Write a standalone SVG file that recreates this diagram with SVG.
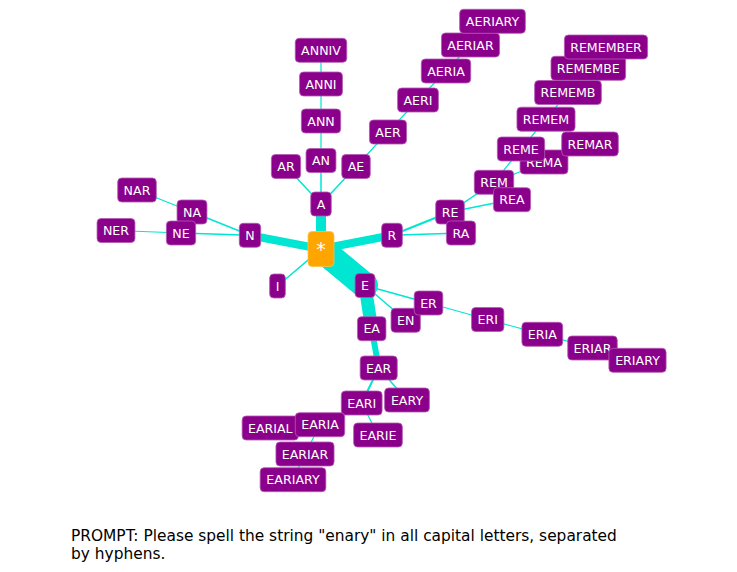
<svg xmlns="http://www.w3.org/2000/svg" width="737" height="572" viewBox="0 0 737 572">
<style>
.bg{fill:#ffffff}
.e{stroke:#00e6d2;stroke-linecap:round;fill:none}
.n rect{fill:#8b008b;stroke:#b45ab4;stroke-width:0.8}
.n text{fill:#ffffff;font-family:"DejaVu Sans",sans-serif;font-size:12.6px;text-anchor:middle}
.root rect{fill:#ffa500;stroke:#ffc04d;stroke-width:0.8}
.root text{fill:#ffffff;font-family:"DejaVu Sans",sans-serif;font-size:19px;text-anchor:middle}
.cap{fill:#000000;font-family:"DejaVu Sans",sans-serif;font-size:15.4px}
</style>
<rect class="bg" x="0" y="0" width="737" height="572"/>
<g id="connectors">
<line class="e" stroke-width="26" x1="321" y1="249" x2="365" y2="285.5"/>
<line class="e" stroke-width="10" x1="321" y1="249" x2="321" y2="204"/>
<line class="e" stroke-width="8" x1="321" y1="249" x2="250" y2="235.3"/>
<line class="e" stroke-width="8" x1="321" y1="249" x2="392" y2="235.3"/>
<line class="e" stroke-width="1.5" x1="321" y1="249" x2="277.5" y2="286"/>
<line class="e" stroke-width="13" x1="365" y1="285.5" x2="371.7" y2="328.7"/>
<line class="e" stroke-width="6" x1="371.7" y1="328.7" x2="378.7" y2="368"/>
<line class="e" stroke-width="1.5" x1="365" y1="285.5" x2="428.5" y2="303"/>
<line class="e" stroke-width="1.5" x1="365" y1="285.5" x2="405.7" y2="320.3"/>
<line class="e" stroke-width="1.2" x1="428.5" y1="303" x2="487.7" y2="319.5"/>
<line class="e" stroke-width="1.2" x1="487.7" y1="319.5" x2="542.3" y2="334.3"/>
<line class="e" stroke-width="1.2" x1="542.3" y1="334.3" x2="592.5" y2="348"/>
<line class="e" stroke-width="1.2" x1="592.5" y1="348" x2="637.5" y2="360.3"/>
<line class="e" stroke-width="2" x1="378.7" y1="368" x2="361.7" y2="403"/>
<line class="e" stroke-width="1.5" x1="378.7" y1="368" x2="407" y2="400"/>
<line class="e" stroke-width="1.2" x1="361.7" y1="403" x2="378" y2="435"/>
<line class="e" stroke-width="1.2" x1="361.7" y1="403" x2="320" y2="424.7"/>
<line class="e" stroke-width="1.2" x1="320" y1="424.7" x2="270.3" y2="428"/>
<line class="e" stroke-width="1.2" x1="320" y1="424.7" x2="305" y2="454"/>
<line class="e" stroke-width="1.2" x1="305" y1="454" x2="293" y2="479.7"/>
<line class="e" stroke-width="1.5" x1="321" y1="204" x2="286" y2="166.5"/>
<line class="e" stroke-width="1.5" x1="321" y1="204" x2="321" y2="160.5"/>
<line class="e" stroke-width="1.5" x1="321" y1="204" x2="356" y2="166.5"/>
<line class="e" stroke-width="1.2" x1="321" y1="160.5" x2="321" y2="121"/>
<line class="e" stroke-width="1.2" x1="321" y1="121" x2="321" y2="84"/>
<line class="e" stroke-width="1.2" x1="321" y1="84" x2="321" y2="50.3"/>
<line class="e" stroke-width="1.2" x1="356" y1="166.5" x2="388" y2="132"/>
<line class="e" stroke-width="1.2" x1="388" y1="132" x2="418" y2="100"/>
<line class="e" stroke-width="1.2" x1="418" y1="100" x2="446" y2="71"/>
<line class="e" stroke-width="1.2" x1="446" y1="71" x2="470.5" y2="45"/>
<line class="e" stroke-width="1.2" x1="470.5" y1="45" x2="492.5" y2="21.3"/>
<line class="e" stroke-width="1.5" x1="250" y1="235.3" x2="192" y2="212"/>
<line class="e" stroke-width="1.5" x1="250" y1="235.3" x2="181" y2="233"/>
<line class="e" stroke-width="1.2" x1="192" y1="212" x2="137" y2="190"/>
<line class="e" stroke-width="1.2" x1="181" y1="233" x2="116" y2="230.5"/>
<line class="e" stroke-width="2" x1="392" y1="235.3" x2="450" y2="212"/>
<line class="e" stroke-width="1.5" x1="392" y1="235.3" x2="461" y2="233"/>
<line class="e" stroke-width="1.5" x1="450" y1="212" x2="494" y2="182.3"/>
<line class="e" stroke-width="1.5" x1="450" y1="212" x2="512" y2="199.7"/>
<line class="e" stroke-width="1.2" x1="494" y1="182.3" x2="521" y2="149"/>
<line class="e" stroke-width="1.2" x1="494" y1="182.3" x2="544" y2="162"/>
<line class="e" stroke-width="1.2" x1="544" y1="162" x2="590" y2="144"/>
<line class="e" stroke-width="1.2" x1="521" y1="149" x2="546" y2="119.2"/>
<line class="e" stroke-width="1.2" x1="546" y1="119.2" x2="568" y2="92.5"/>
<line class="e" stroke-width="1.2" x1="568" y1="92.5" x2="588.3" y2="68.3"/>
<line class="e" stroke-width="1.2" x1="588.3" y1="68.3" x2="606" y2="47"/>
</g>
<g id="node-root" class="root"><rect x="308" y="231.5" width="26" height="35" rx="4"/><text x="321" y="256">*</text></g>
<g id="node-A" class="n"><rect x="310.75" y="192" width="20.5" height="24" rx="4"/><text x="321" y="208.5">A</text></g>
<g id="node-AR" class="n"><rect x="271.4" y="154.5" width="29.2" height="24" rx="4"/><text x="286" y="171">AR</text></g>
<g id="node-AN" class="n"><rect x="306.05" y="148.5" width="29.9" height="24" rx="4"/><text x="321" y="165">AN</text></g>
<g id="node-AE" class="n"><rect x="341.75" y="154.5" width="28.5" height="24" rx="4"/><text x="356" y="171">AE</text></g>
<g id="node-ANN" class="n"><rect x="301.35" y="109" width="39.3" height="24" rx="4"/><text x="321" y="125.5">ANN</text></g>
<g id="node-ANNI" class="n"><rect x="299.55" y="72" width="42.9" height="24" rx="4"/><text x="321" y="88.5">ANNI</text></g>
<g id="node-ANNIV" class="n"><rect x="295.25" y="38.3" width="51.5" height="24" rx="4"/><text x="321" y="54.8">ANNIV</text></g>
<g id="node-AER" class="n"><rect x="369.45" y="120" width="37.1" height="24" rx="4"/><text x="388" y="136.5">AER</text></g>
<g id="node-AERI" class="n"><rect x="397.6" y="88" width="40.8" height="24" rx="4"/><text x="418" y="104.5">AERI</text></g>
<g id="node-AERIA" class="n"><rect x="421.3" y="59" width="49.4" height="24" rx="4"/><text x="446" y="75.5">AERIA</text></g>
<g id="node-AERIAR" class="n"><rect x="441.45" y="33" width="58.1" height="24" rx="4"/><text x="470.5" y="49.5">AERIAR</text></g>
<g id="node-AERIARY" class="n"><rect x="459.65" y="9.3" width="65.7" height="24" rx="4"/><text x="492.5" y="25.8">AERIARY</text></g>
<g id="node-N" class="n"><rect x="239.3" y="223.3" width="21.4" height="24" rx="4"/><text x="250" y="239.8">N</text></g>
<g id="node-NA" class="n"><rect x="177.05" y="200" width="29.9" height="24" rx="4"/><text x="192" y="216.5">NA</text></g>
<g id="node-NE" class="n"><rect x="166.35" y="221" width="29.3" height="24" rx="4"/><text x="181" y="237.5">NE</text></g>
<g id="node-NAR" class="n"><rect x="117.7" y="178" width="38.6" height="24" rx="4"/><text x="137" y="194.5">NAR</text></g>
<g id="node-NER" class="n"><rect x="97.05" y="218.5" width="37.9" height="24" rx="4"/><text x="116" y="235">NER</text></g>
<g id="node-R" class="n"><rect x="381.65" y="223.3" width="20.7" height="24" rx="4"/><text x="392" y="239.8">R</text></g>
<g id="node-RE" class="n"><rect x="435.7" y="200" width="28.6" height="24" rx="4"/><text x="450" y="216.5">RE</text></g>
<g id="node-RA" class="n"><rect x="446.4" y="221" width="29.2" height="24" rx="4"/><text x="461" y="237.5">RA</text></g>
<g id="node-REM" class="n"><rect x="474.3" y="170.3" width="39.4" height="24" rx="4"/><text x="494" y="186.8">REM</text></g>
<g id="node-REA" class="n"><rect x="493.45" y="187.7" width="37.1" height="24" rx="4"/><text x="512" y="204.2">REA</text></g>
<g id="node-REMA" class="n"><rect x="520.05" y="150" width="47.9" height="24" rx="4"/><text x="544" y="166.5">REMA</text></g>
<g id="node-REME" class="n"><rect x="497.35" y="137" width="47.3" height="24" rx="4"/><text x="521" y="153.5">REME</text></g>
<g id="node-REMEM" class="n"><rect x="516.95" y="107.2" width="58.1" height="24" rx="4"/><text x="546" y="123.7">REMEM</text></g>
<g id="node-REMAR" class="n"><rect x="561.7" y="132" width="56.6" height="24" rx="4"/><text x="590" y="148.5">REMAR</text></g>
<g id="node-REMEMB" class="n"><rect x="534.65" y="80.5" width="66.7" height="24" rx="4"/><text x="568" y="97">REMEMB</text></g>
<g id="node-REMEMBE" class="n"><rect x="551" y="56.3" width="74.6" height="24" rx="4"/><text x="588.3" y="72.8">REMEMBE</text></g>
<g id="node-REMEMBER" class="n"><rect x="564.4" y="35" width="83.2" height="24" rx="4"/><text x="606" y="51.5">REMEMBER</text></g>
<g id="node-I" class="n"><rect x="269.65" y="274" width="15.7" height="24" rx="4"/><text x="277.5" y="290.5">I</text></g>
<g id="node-E" class="n"><rect x="355.05" y="273.5" width="19.9" height="24" rx="4"/><text x="365" y="290">E</text></g>
<g id="node-EN" class="n"><rect x="391.05" y="308.3" width="29.3" height="24" rx="4"/><text x="405.7" y="324.8">EN</text></g>
<g id="node-ER" class="n"><rect x="414.2" y="291" width="28.6" height="24" rx="4"/><text x="428.5" y="307.5">ER</text></g>
<g id="node-EA" class="n"><rect x="357.45" y="316.7" width="28.5" height="24" rx="4"/><text x="371.7" y="333.2">EA</text></g>
<g id="node-ERI" class="n"><rect x="471.55" y="307.5" width="32.3" height="24" rx="4"/><text x="487.7" y="324">ERI</text></g>
<g id="node-ERIA" class="n"><rect x="521.9" y="322.3" width="40.8" height="24" rx="4"/><text x="542.3" y="338.8">ERIA</text></g>
<g id="node-ERIAR" class="n"><rect x="567.75" y="336" width="49.5" height="24" rx="4"/><text x="592.5" y="352.5">ERIAR</text></g>
<g id="node-ERIARY" class="n"><rect x="608.9" y="348.3" width="57.2" height="24" rx="4"/><text x="637.5" y="364.8">ERIARY</text></g>
<g id="node-EAR" class="n"><rect x="360.15" y="356" width="37.1" height="24" rx="4"/><text x="378.7" y="372.5">EAR</text></g>
<g id="node-EARI" class="n"><rect x="341.3" y="391" width="40.8" height="24" rx="4"/><text x="361.7" y="407.5">EARI</text></g>
<g id="node-EARY" class="n"><rect x="384.6" y="388" width="44.8" height="24" rx="4"/><text x="407" y="404.5">EARY</text></g>
<g id="node-EARIE" class="n"><rect x="353.65" y="423" width="48.7" height="24" rx="4"/><text x="378" y="439.5">EARIE</text></g>
<g id="node-EARIAL" class="n"><rect x="242.15" y="416" width="56.3" height="24" rx="4"/><text x="270.3" y="432.5">EARIAL</text></g>
<g id="node-EARIA" class="n"><rect x="295.3" y="412.7" width="49.4" height="24" rx="4"/><text x="320" y="429.2">EARIA</text></g>
<g id="node-EARIAR" class="n"><rect x="275.95" y="442" width="58.1" height="24" rx="4"/><text x="305" y="458.5">EARIAR</text></g>
<g id="node-EARIARY" class="n"><rect x="260.15" y="467.7" width="65.7" height="24" rx="4"/><text x="293" y="484.2">EARIARY</text></g>
<text class="cap" x="71" y="540.5">PROMPT: Please spell the string "enary" in all capital letters, separated</text>
<text class="cap" x="71" y="558.8">by hyphens.</text>
</svg>
